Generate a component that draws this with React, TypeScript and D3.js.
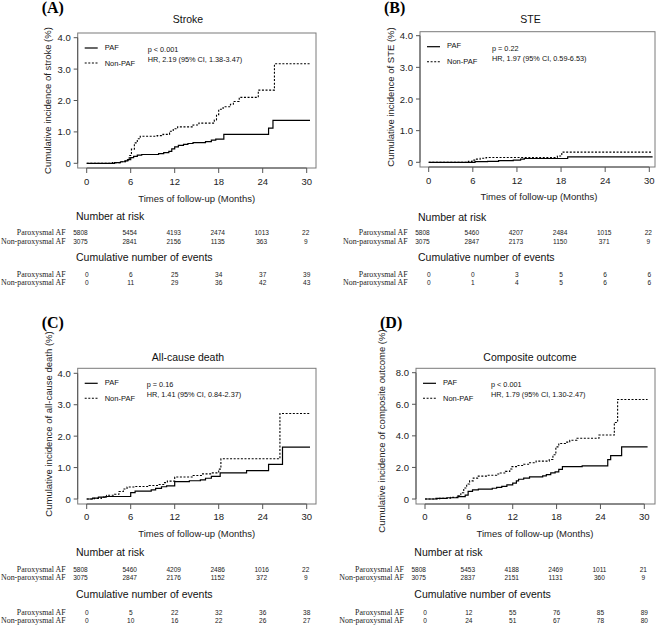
import React from "react";
import * as d3 from "d3";

type Pt = [number, number];

// ---- time axis ----
const timeTicks = [0, 6, 12, 18, 24, 30];
const yTicks4 = [0, 1, 2, 3, 4];
const yTicks8 = [0, 2, 4, 6, 8];
const rowNames = ["Paroxysmal AF", "Non-paroxysmal AF"];

// ---- (A) Stroke ----
const strokePAF: Pt[] = [[0,0],[3.8,0.02],[4.6,0.05],[5.2,0.08],[5.6,0.12],[6.0,0.18],[6.4,0.22],[6.9,0.26],[7.5,0.28],[9.8,0.31],[10.5,0.34],[11.2,0.38],[11.6,0.46],[12.0,0.52],[12.5,0.57],[13.2,0.6],[13.8,0.63],[14.5,0.66],[16.2,0.69],[17.0,0.74],[17.6,0.77],[18.7,0.92],[24.8,1.12],[25.4,1.37],[30.45,1.37]];
const strokeNonPAF: Pt[] = [[0,0],[3.5,0.02],[4.5,0.05],[5.3,0.1],[5.8,0.25],[6.1,0.45],[6.5,0.65],[6.9,0.78],[7.3,0.86],[9.6,0.88],[10.4,0.92],[11.3,1.02],[11.8,1.1],[12.4,1.16],[14.5,1.22],[15.3,1.28],[17.4,1.38],[17.7,1.55],[18.0,1.72],[18.6,1.8],[19.6,1.88],[20.0,1.97],[20.8,2.1],[23.4,2.33],[25.6,3.17],[30.45,3.17]];
const strokeRiskPAF = [5808, 5454, 4193, 2474, 1013, 22];
const strokeRiskNon = [3075, 2841, 2156, 1135, 363, 9];
const strokeEvtPAF = [0, 6, 25, 34, 37, 39];
const strokeEvtNon = [0, 11, 29, 36, 42, 43];

// ---- (B) STE ----
const stePAF: Pt[] = [[0,0],[6.3,0.02],[8.0,0.03],[9.5,0.05],[11.5,0.07],[12.5,0.1],[13.0,0.12],[18.9,0.17],[30.45,0.17]];
const steNonPAF: Pt[] = [[0,0],[5.4,0.03],[5.9,0.07],[6.4,0.1],[7.0,0.13],[7.8,0.15],[17.5,0.2],[18.1,0.32],[30.45,0.32]];
const steRiskPAF = [5808, 5460, 4207, 2484, 1015, 22];
const steRiskNon = [3075, 2847, 2173, 1150, 371, 9];
const steEvtPAF = [0, 0, 3, 5, 6, 6];
const steEvtNon = [0, 1, 4, 5, 6, 6];

// ---- (C) All-cause death ----
const deathPAF: Pt[] = [[0,0],[0.8,0.03],[1.6,0.06],[2.6,0.08],[6.0,0.2],[6.6,0.25],[8.8,0.29],[9.4,0.34],[10.2,0.39],[10.9,0.42],[12.0,0.55],[14.0,0.58],[15.5,0.61],[16.2,0.66],[17.0,0.72],[18.2,0.83],[21.8,0.9],[24.8,1.1],[26.7,1.65],[30.45,1.65]];
const deathNonPAF: Pt[] = [[0,0],[1.0,0.02],[2.0,0.06],[2.7,0.12],[3.8,0.15],[4.4,0.24],[5.0,0.32],[5.5,0.38],[6.5,0.4],[8.5,0.43],[9.8,0.46],[10.5,0.52],[11.0,0.57],[12.0,0.7],[14.5,0.75],[15.8,0.8],[17.0,0.83],[18.0,0.95],[18.3,1.28],[26.35,2.72],[30.45,2.72]];
const deathRiskPAF = [5808, 5460, 4209, 2486, 1016, 22];
const deathRiskNon = [3075, 2847, 2176, 1152, 372, 9];
const deathEvtPAF = [0, 5, 22, 32, 36, 38];
const deathEvtNon = [0, 10, 16, 22, 26, 27];

// ---- (D) Composite outcome ----
const compPAF: Pt[] = [[0,0],[1.5,0.04],[3.0,0.08],[4.5,0.15],[5.5,0.25],[5.9,0.48],[6.5,0.58],[7.3,0.62],[9.2,0.68],[9.8,0.74],[10.5,0.8],[11.2,0.9],[12.0,1.0],[12.5,1.15],[12.8,1.25],[13.5,1.32],[14.3,1.4],[16.1,1.47],[16.6,1.55],[17.2,1.65],[17.8,1.72],[18.3,1.88],[18.8,2.05],[21.5,2.1],[25.0,2.5],[25.4,2.75],[26.9,3.3],[30.45,3.3]];
const compNonPAF: Pt[] = [[0,0],[2.0,0.05],[3.5,0.1],[4.5,0.2],[4.9,0.4],[5.3,0.7],[5.7,0.95],[6.1,1.15],[6.6,1.32],[7.2,1.45],[8.5,1.5],[9.8,1.58],[10.3,1.65],[11.0,1.75],[11.6,1.9],[11.9,2.05],[12.6,2.12],[13.5,2.2],[14.3,2.3],[15.2,2.4],[17.0,2.5],[17.5,2.8],[17.9,3.3],[18.3,3.52],[19.2,3.6],[19.8,3.72],[20.8,3.85],[23.8,4.05],[25.9,4.85],[26.35,6.3],[30.45,6.3]];
const compRiskPAF = [5808, 5453, 4188, 2469, 1011, 21];
const compRiskNon = [3075, 2837, 2151, 1131, 360, 9];
const compEvtPAF = [0, 12, 55, 76, 85, 89];
const compEvtNon = [0, 24, 51, 67, 78, 80];

const SANS = "'Liberation Sans', Arial, sans-serif";
const SERIF = "'Liberation Serif', 'Times New Roman', serif";

interface Layout {
  letter: string; title: string; ylab: string; pText: string; hrText: string;
  x0: number; x30: number; y0: number; yTopPx: number; vmax: number; yTicks: number[];
  boxL: number; boxR: number; boxT: number; boxB: number;
  letterY: number; titleX: number; titleY: number; ylabX: number; ylabY: number;
  tickLabY: number; xlabX: number; xlabY: number; narY: number; rows1: number[];
  cneY: number; rows2: number[]; pDx: number;
  paf: Pt[]; non: Pt[]; risk: number[][]; evt: number[][];
}

const panels: Layout[] = [
  {
    letter: "(A)", title: "Stroke", ylab: "Cumulative incidence of stroke (%)",
    pText: "p < 0.001", hrText: "HR, 2.19 (95% CI, 1.38-3.47)",
    x0: 86.7, x30: 306.7, y0: 163.3, yTopPx: 37.7, vmax: 4, yTicks: yTicks4,
    boxL: 77.7, boxR: 316, boxT: 33, boxB: 168,
    letterY: 13, titleX: 188, titleY: 19, ylabX: 47, ylabY: 100.5,
    tickLabY: 181.7, xlabX: 196.7, xlabY: 198, narY: 216, rows1: [232.5, 241],
    cneY: 257, rows2: [274, 282.5], pDx: 70,
    paf: strokePAF, non: strokeNonPAF, risk: [strokeRiskPAF, strokeRiskNon], evt: [strokeEvtPAF, strokeEvtNon],
  },
  {
    letter: "(B)", title: "STE", ylab: "Cumulative incidence of STE (%)",
    pText: "p = 0.22", hrText: "HR, 1.97 (95% CI, 0.59-6.53)",
    x0: 428.7, x30: 649.3, y0: 162.3, yTopPx: 35.7, vmax: 4, yTicks: yTicks4,
    boxL: 420, boxR: 655, boxT: 31.7, boxB: 167,
    letterY: 13, titleX: 530.5, titleY: 19, ylabX: 390, ylabY: 97,
    tickLabY: 180, xlabX: 539, xlabY: 196.7, narY: 216.7, rows1: [232.5, 241],
    cneY: 256.5, rows2: [274, 282.5], pDx: 72,
    paf: stePAF, non: steNonPAF, risk: [steRiskPAF, steRiskNon], evt: [steEvtPAF, steEvtNon],
  },
  {
    letter: "(C)", title: "All-cause death", ylab: "Cumulative incidence of all-cause death (%)",
    pText: "p = 0.16", hrText: "HR, 1.41 (95% CI, 0.84-2.37)",
    x0: 86.7, x30: 306.7, y0: 499, yTopPx: 373.3, vmax: 4, yTicks: yTicks4,
    boxL: 77.7, boxR: 316, boxT: 368.3, boxB: 504,
    letterY: 328, titleX: 188, titleY: 356.7, ylabX: 48, ylabY: 424,
    tickLabY: 516.7, xlabX: 196.7, xlabY: 533.3, narY: 551.7, rows1: [569.2, 577.7],
    cneY: 594.3, rows2: [612.2, 620.7], pDx: 69,
    paf: deathPAF, non: deathNonPAF, risk: [deathRiskPAF, deathRiskNon], evt: [deathEvtPAF, deathEvtNon],
  },
  {
    letter: "(D)", title: "Composite outcome", ylab: "Cumulative incidence of composite outcome (%)",
    pText: "p < 0.001", hrText: "HR, 1.79 (95% CI, 1.30-2.47)",
    x0: 425, x30: 644.3, y0: 499, yTopPx: 372.7, vmax: 8, yTicks: yTicks8,
    boxL: 416, boxR: 655, boxT: 368.3, boxB: 504,
    letterY: 328, titleX: 530, titleY: 356.7, ylabX: 381, ylabY: 431,
    tickLabY: 516.7, xlabX: 535, xlabY: 533.3, narY: 551.7, rows1: [569.2, 577.7],
    cneY: 594.3, rows2: [612.2, 620.7], pDx: 75,
    paf: compPAF, non: compNonPAF, risk: [compRiskPAF, compRiskNon], evt: [compEvtPAF, compEvtNon],
  },
];

function Panel({ p }: { p: Layout }) {
  const x = d3.scaleLinear().domain([0, 30]).range([p.x0, p.x30]);
  const y = d3.scaleLinear().domain([0, p.vmax]).range([p.y0, p.yTopPx]);
  const line = d3.line<Pt>().x((d) => x(d[0])).y((d) => y(d[1])).curve(d3.curveStepAfter);
  const fmtY = (v: number) => (v === 0 ? "0" : d3.format(".1f")(v));
  const lx = p.boxL;
  const rowLabX = p.x0 - 21;
  const numText = (v: number, cx: number, cy: number, anchor: string, key: string) => (
    <text key={key} transform={`translate(${cx},${cy}) scale(0.82,1)`} textAnchor={anchor}
      dominantBaseline="central" fontFamily={SANS} fontSize={8} fill="#1a1a1a">{v}</text>
  );
  return (
    <g>
      <text x={p.boxL - 36} y={p.letterY} fontFamily={SERIF} fontWeight="bold" fontSize={16} fill="#000">{p.letter}</text>
      <text x={p.titleX} y={p.titleY} textAnchor="middle" dominantBaseline="central" fontFamily={SANS} fontSize={10.5} fill="#111">{p.title}</text>
      <rect x={p.boxL} y={p.boxT} width={p.boxR - p.boxL} height={p.boxB - p.boxT} fill="none" stroke="#7a7a7a" strokeWidth={1} />
      {/* y axis */}
      <line x1={p.boxL} x2={p.boxL} y1={y(0)} y2={y(p.vmax)} stroke="#555" strokeWidth={1} />
      {p.yTicks.map((t) => (
        <g key={"yt" + t}>
          <line x1={p.boxL - 4} x2={p.boxL} y1={y(t)} y2={y(t)} stroke="#555" strokeWidth={1} />
          <text x={p.boxL - 7} y={y(t)} textAnchor="end" dominantBaseline="central" fontFamily={SANS} fontSize={9.5} fill="#222">{fmtY(t)}</text>
        </g>
      ))}
      {/* x axis */}
      <line x1={x(0)} x2={x(30)} y1={p.boxB} y2={p.boxB} stroke="#555" strokeWidth={1} />
      {timeTicks.map((t) => (
        <g key={"xt" + t}>
          <line x1={x(t)} x2={x(t)} y1={p.boxB} y2={p.boxB + 5} stroke="#555" strokeWidth={1} />
          <text x={x(t)} y={p.tickLabY} textAnchor="middle" dominantBaseline="central" fontFamily={SANS} fontSize={9.5} fill="#222">{t}</text>
        </g>
      ))}
      <text transform={`translate(${p.ylabX},${p.ylabY}) rotate(-90)`} textAnchor="middle" dominantBaseline="central" fontFamily={SANS} fontSize={9.5} fill="#222">{p.ylab}</text>
      <text x={p.xlabX} y={p.xlabY} textAnchor="middle" dominantBaseline="central" fontFamily={SANS} fontSize={9.5} fill="#222">Times of follow-up (Months)</text>
      {/* legend */}
      <line x1={lx + 7} x2={lx + 20} y1={p.boxT + 15} y2={p.boxT + 15} stroke="#000" strokeWidth={1.2} />
      <line x1={lx + 7} x2={lx + 20} y1={p.boxT + 30} y2={p.boxT + 30} stroke="#000" strokeWidth={1.1} strokeDasharray="2,1.6" />
      <text x={lx + 27} y={p.boxT + 14} dominantBaseline="central" fontFamily={SANS} fontSize={7.5} fill="#111">PAF</text>
      <text x={lx + 27} y={p.boxT + 30} dominantBaseline="central" fontFamily={SANS} fontSize={7.5} fill="#111">Non-PAF</text>
      <text x={lx + p.pDx} y={p.boxT + 16.5} dominantBaseline="central" fontFamily={SANS} fontSize={7.3} fill="#111">{p.pText}</text>
      <text x={lx + p.pDx} y={p.boxT + 26.5} dominantBaseline="central" fontFamily={SANS} fontSize={7.3} fill="#111">{p.hrText}</text>
      {/* curves */}
      <path d={line(p.non) || ""} fill="none" stroke="#000" strokeWidth={1.1} strokeDasharray="2,1.6" />
      <path d={line(p.paf) || ""} fill="none" stroke="#000" strokeWidth={1.2} />
      {/* tables */}
      <text x={p.x0 - 10.7} y={p.narY} dominantBaseline="central" fontFamily={SANS} fontSize={10.5} fill="#111">Number at risk</text>
      <text x={p.x0 - 10.7} y={p.cneY} dominantBaseline="central" fontFamily={SANS} fontSize={10.5} fill="#111">Cumulative number of events</text>
      {rowNames.map((nm, i) => (
        <g key={"rn" + i}>
          <text x={rowLabX} y={p.rows1[i]} textAnchor="end" dominantBaseline="central" fontFamily={SERIF} fontSize={7.9} fill="#222">{nm}</text>
          <text x={rowLabX} y={p.rows2[i]} textAnchor="end" dominantBaseline="central" fontFamily={SERIF} fontSize={7.9} fill="#222">{nm}</text>
          {p.risk[i].map((v, j) =>
            j === 0 ? numText(v, x(timeTicks[j]) + 1, p.rows1[i], "end", "r" + i + j)
                    : numText(v, x(timeTicks[j]) - 1, p.rows1[i], "middle", "r" + i + j))}
          {p.evt[i].map((v, j) => numText(v, x(timeTicks[j]), p.rows2[i], "middle", "e" + i + j))}
        </g>
      ))}
    </g>
  );
}

export default function App() {
  return (
    <svg width={659} height={633} viewBox="0 0 659 633"
      style={{ position: "absolute", left: 0, top: 0, background: "#fff" }}>
      <rect x={0} y={0} width={659} height={633} fill="#fff" />
      {panels.map((p) => <Panel key={p.letter} p={p} />)}
    </svg>
  );
}
